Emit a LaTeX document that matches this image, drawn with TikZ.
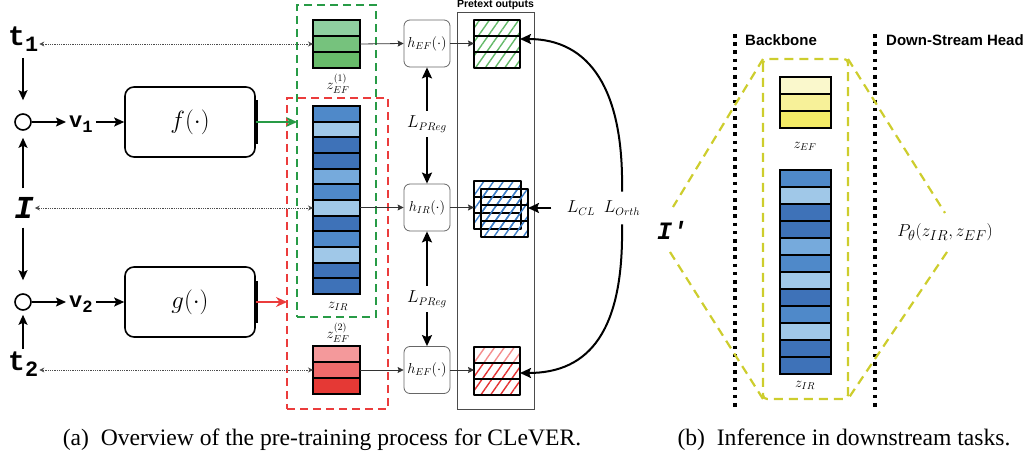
\documentclass[tikz,border=0pt]{standalone}
\usepackage{amsmath}
\usepackage[no-math]{fontspec}
\setmainfont{Liberation Serif}
\newfontfamily\monofam{Liberation Mono}
\newfontfamily\sansfam{Liberation Sans}
\usetikzlibrary{arrows.meta,patterns.meta}
\definecolor{bM}{RGB}{79,137,201}
\definecolor{bL}{RGB}{160,200,232}
\definecolor{bD}{RGB}{62,114,184}
\definecolor{bML}{RGB}{118,170,220}
\definecolor{gA}{RGB}{143,207,160}
\definecolor{gB}{RGB}{118,194,125}
\definecolor{gC}{RGB}{104,187,106}
\definecolor{rA}{RGB}{244,153,155}
\definecolor{rB}{RGB}{239,107,107}
\definecolor{rC}{RGB}{229,57,53}
\definecolor{yA}{RGB}{250,248,204}
\definecolor{yB}{RGB}{247,241,153}
\definecolor{yC}{RGB}{244,235,102}
\definecolor{dgreen}{RGB}{40,155,70}
\definecolor{dred}{RGB}{235,60,60}
\definecolor{olive}{RGB}{205,205,45}
\definecolor{hg}{RGB}{100,185,105}
\definecolor{hb}{RGB}{60,125,200}
\definecolor{hrA}{RGB}{244,140,140}
\definecolor{hr}{RGB}{228,50,50}
\newcommand\tok[3]{{\monofam\bfseries\fontsize{#3}{#3}\selectfont #1\raisebox{-0.2em}{\fontsize{0.78em}{0.78em}\selectfont #2}}}
\newcommand\celstack[5]{\foreach \c [count=\i from 0] in {#5}{\draw[cellb,fill=\c] (#1,{#2+\i*#4}) rectangle ++(#3,#4);}}
\newcommand\hatchstack[5]{\foreach \c [count=\i from 0] in {#5}{\draw[sketch,preaction={pattern={Lines[angle=55,distance=8pt,line width=1.4pt]},pattern color=\c}] (#1,{#2+\i*#4}) rectangle ++(#3,#4);}}
\begin{document}
\begin{tikzpicture}[x=1pt,y=-1pt,
  cellb/.style={line width=1.8pt,draw=black},
  sketch/.style={line width=2.8pt,draw=black,line join=round},
  arr/.style={-{Stealth[length=10pt,width=9pt,inset=2pt]},line width=1.6pt},
  barr/.style={-{Stealth[length=11pt,width=10pt,inset=2pt]},line width=2pt},
  tarr/.style={-{Stealth[length=6pt,width=6pt,inset=1pt]},line width=0.8pt,draw=black!80},
  dotarr/.style={{Stealth[length=5pt,width=5pt]}-{Stealth[length=5pt,width=5pt]},densely dotted,line width=0.8pt,draw=black!70},
  hbox/.style={draw=black!60,line width=0.8pt,rounded corners=6pt,minimum width=46pt,minimum height=47pt,inner sep=0pt,font=\fontsize{14.5}{14.5}\selectfont},
  fbox/.style={draw,line width=1.6pt,rounded corners=9pt,minimum width=130pt,minimum height=70pt,font=\fontsize{24}{24}\selectfont},
  blank/.style={inner sep=0pt,outer sep=0pt},
  zlab/.style={font=\fontsize{14}{14}\selectfont,inner sep=1pt},
  lab/.style={font=\fontsize{16}{16}\selectfont},
  ring/.style={circle,draw,line width=1.6pt,minimum size=16pt,inner sep=0pt},
  ydash/.style={draw=olive,line width=2.2pt,dash pattern=on 9pt off 6pt},
  vdots/.style={line width=3.6pt,dash pattern=on 3.6pt off 4.6pt},
  headl/.style={font=\sansfam\bfseries\fontsize{15}{15}\selectfont,anchor=base west,inner sep=0pt},
  captxt/.style={font=\fontsize{23.6}{23.6}\selectfont,anchor=base,inner sep=0pt}]
\useasboundingbox (0,0) rectangle (1029,454);
% ---------- left inputs
\node[anchor=base west,inner sep=1pt] (t1) at (7,46) {\tok{t}{1}{28}};
\node[inner sep=1pt] (I) at (24,208) {\monofam\bfseries\itshape\fontsize{32}{32}\selectfont I};
\node[anchor=base west,inner sep=1pt] (t2) at (7,371) {\tok{t}{2}{28}};
\node[ring] (c1) at (23,122) {};
\node[ring] (c2) at (23,302) {};
\node[anchor=base west,inner sep=0pt] (v1) at (69,128) {\tok{v}{1}{22}};
\node[anchor=base west,inner sep=0pt] (v2) at (69,308) {\tok{v}{2}{22}};
\draw[arr,shorten <=5pt,shorten >=13pt] (c1 |- t1.south) -- (c1);
\draw[arr,shorten <=8pt,shorten >=7pt] (c1 |- I.north) -- (c1);
\draw[arr,shorten <=8pt,shorten >=13pt] (c2 |- I.south) -- (c2);
\draw[arr,shorten <=2pt,shorten >=4pt] (c2 |- t2.north) -- (c2);
\draw[arr,shorten >=3pt] (c1) -- (v1.west |- c1);
\node[fbox] (f) at (190,122) {$f(\cdot)$};
\node[fbox] (g) at (190,302) {$g(\cdot)$};
\draw[arr,shorten <=3pt] (v1.east |- c1) -- (f.west);
\draw[arr,shorten >=3pt] (c2) -- (v2.west |- c2);
\draw[arr,shorten <=3pt] (v2.east |- c2) -- (g.west);
\draw[line width=3.4pt] ([yshift=22pt]f.east) -- ([yshift=-22pt]f.east);
\draw[line width=3.4pt] ([yshift=21pt]g.east) -- ([yshift=-21pt]g.east);
% ---------- dashed groups
\node[blank,draw=dgreen,line width=2pt,dash pattern=on 8pt off 5pt,minimum width=79pt,minimum height=312pt] (gbox) at (336.5,161) {};
\node[blank,draw=dred,line width=2pt,dash pattern=on 8pt off 5pt,minimum width=101pt,minimum height=311pt] (rbox) at (337.5,253.5) {};
\draw[-{Stealth[length=11pt,width=10pt]},line width=2.6pt,dgreen] (f.east) -- (gbox.west |- f.east);
\draw[-{Stealth[length=11pt,width=10pt]},line width=2.6pt,dred] (g.east) -- (rbox.west |- g.east);
% ---------- latent stacks
\celstack{313}{20}{47}{16}{gA,gB,gC}
\node[blank,minimum width=47pt,minimum height=48pt] (zef1) at (336.5,44) {};
\celstack{313}{106}{47}{15.667}{bM,bL,bD,bD,bML,bM,bL,bD,bM,bL,bD,bD}
\node[blank,minimum width=47pt,minimum height=188pt] (zir) at (336.5,200) {};
\celstack{313}{346}{47}{16}{rA,rB,rC}
\node[blank,minimum width=47pt,minimum height=48pt] (zef2) at (336.5,370) {};
\node[zlab] (lzef1) at (338,84) {$z^{(1)}_{EF}$};
\node[zlab] (lzir) at (338,306) {$z_{IR}$};
\node[zlab] (lzef2) at (338,333) {$z^{(2)}_{EF}$};
\draw[dotarr] (zef1.west) -- (t1.east |- zef1.west);
\draw[dotarr] (zir.west |- I) -- (I.east);
\draw[dotarr] (zef2.west) -- (t2.east |- zef2.west);
% ---------- heads
\node[hbox] (hef1) at (427,43.5) {$h_{EF}(\cdot)$};
\node[hbox] (hir) at (427,207.5) {$h_{IR}(\cdot)$};
\node[hbox] (hef2) at (427,370) {$h_{EF}(\cdot)$};
\draw[tarr] (zef1.east) -- (hef1.west);
\draw[tarr] (zir.east |- hir) -- (hir.west);
\draw[tarr] (zef2.east) -- (hef2.west);
\node[lab,inner sep=5pt] (lp1) at (427,124) {$L_{PReg}$};
\node[lab,inner sep=5pt] (lp2) at (427,299) {$L_{PReg}$};
\draw[barr] (lp1) -- (hef1);
\draw[barr] (lp1) -- (hir);
\draw[barr] (lp2) -- (hir);
\draw[barr] (lp2) -- (hef2);
% ---------- pretext outputs
\node[blank,draw=black!70,line width=0.9pt,minimum width=77pt,minimum height=397pt] (pbox) at (495.5,210.5) {};
\node[font=\sansfam\bfseries\fontsize{10.5}{10.5}\selectfont,inner sep=1pt] (ptitle) at (495.5,5) {Pretext outputs};
\hatchstack{474}{20}{46}{16}{hg,hg,hg}
\node[blank,minimum width=46pt,minimum height=48pt] (pg) at (497,44) {};
\hatchstack{474}{181}{47}{16}{hb,hb,hb}
\hatchstack{481}{189}{47}{16}{hb,hb,hb}
\node[blank,minimum width=47pt,minimum height=48pt] (pb1) at (497.5,205) {};
\node[blank,minimum width=47pt,minimum height=48pt] (pb2) at (504.5,213) {};
\hatchstack{474}{347}{46}{16}{hrA,hr,hr}
\node[blank,minimum width=46pt,minimum height=48pt] (pr) at (497,371) {};
\draw[tarr] (hef1.east) -- (pg.west |- hef1);
\draw[tarr] (hir.east) -- (pb1.west |- hir);
\draw[tarr] (hef2.east) -- (pr.west |- hef2);
\node[lab] (lcl) at (581,208) {$L_{CL}$};
\node[lab,inner ysep=9pt] (lorth) at (622,208) {$L_{Orth}$};
\draw[barr,shorten <=12pt] (lcl) -- (pb2.east |- lcl);
\draw[barr] (lorth.north) .. controls (624,90) and (590,39) .. ([yshift=5pt]pg.east);
\draw[barr] (lorth.south) .. controls (624,330) and (590,373) .. ([yshift=-2pt]pr.east);
% ---------- inference panel
\draw[vdots] (735,34) -- (735,411);
\draw[vdots] (875,34) -- (875,411);
\node[headl] (bb) at (745,46) {Backbone};
\node[headl] (dsh) at (886,46) {Down-Stream Head};
\draw[ydash,rounded corners=4pt] (763,59) rectangle (848,399);
\draw[ydash] (763,59) -- (673,207);
\draw[ydash] (670,252) -- (763,399);
\draw[ydash] (848,59) -- (945,213);
\draw[ydash] (947,252) -- (848,399);
\celstack{780}{77}{51}{17}{yA,yB,yC}
\node[blank,minimum width=51pt,minimum height=51pt] (yef) at (805.5,102.5) {};
\celstack{780}{170}{51}{17}{bM,bL,bD,bD,bML,bM,bL,bD,bM,bL,bD,bD}
\node[blank,minimum width=51pt,minimum height=204pt] (yir) at (805.5,272) {};
\node[zlab] (lyef) at (805,146) {$z_{EF}$};
\node[zlab] (lyir) at (805,385) {$z_{IR}$};
\node[inner sep=1pt] (Ip) at (672,230) {\monofam\bfseries\itshape\fontsize{25}{25}\selectfont I'};
\node[font=\fontsize{19}{19}\selectfont,inner sep=1pt] (P) at (945,232) {$P_\theta(z_{IR},z_{EF})$};
% ---------- captions
\node[captxt] (capa) at (322,446) {(a)\hspace{0.5em}Overview of the pre-training process for CLeVER.};
\node[captxt] (capb) at (844,446) {(b)\hspace{0.5em}Inference in downstream tasks.};
\end{tikzpicture}
\end{document}
